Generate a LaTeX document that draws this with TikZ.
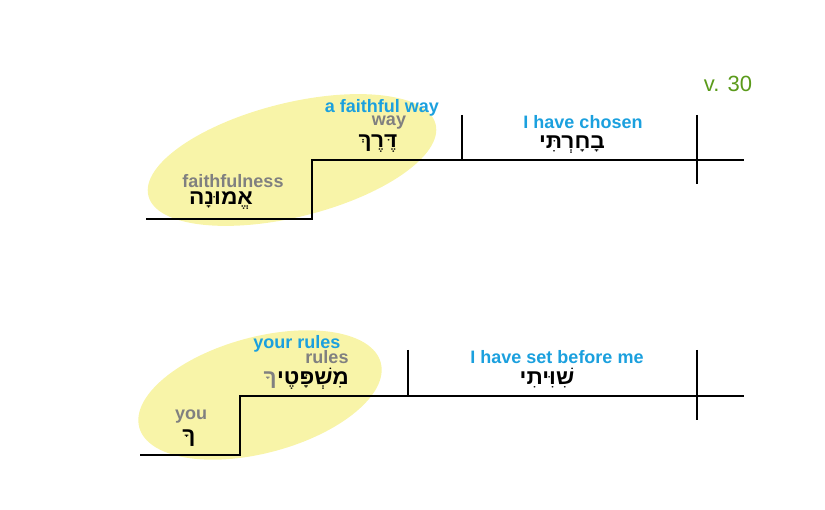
\documentclass[tikz,border=0pt]{standalone}
\usepackage{fontspec}
\setmainfont{Liberation Sans}
\newfontfamily\hebfont[Script=Hebrew, BoldFont={Liberation Sans Bold}, BoldFeatures={FakeStretch=1.08}]{Liberation Sans}
\TeXXeTstate=1
\definecolor{glossblue}{RGB}{27,160,222}
\definecolor{glossgray}{RGB}{128,128,128}
\definecolor{versegreen}{RGB}{90,154,26}
\definecolor{hilite}{RGB}{248,244,168}
\newcommand{\heb}[1]{\hebfont\bfseries\beginR #1\endR}
\begin{document}
\begin{tikzpicture}[x=1pt,y=-1pt,
    en/.style={font=\fontsize{18}{18}\selectfont\bfseries, text=glossblue, inner sep=0pt},
    gl/.style={font=\fontsize{18}{18}\selectfont\bfseries, text=glossgray, inner sep=0pt},
    hw/.style={font=\fontsize{21}{21}\selectfont, inner sep=0pt, anchor=base},
    rule/.style={line width=1.2pt, black}]
  \useasboundingbox (0,0) rectangle (825,510);
  % highlights
  \fill[hilite, rotate around={14:(292,160)}] (292,160) ellipse [x radius=148pt, y radius=57pt];
  \fill[hilite, rotate around={15:(260,395)}] (260,395) ellipse [x radius=125pt, y radius=58pt];
  % verse number
  \node[font=\fontsize{22}{22}\selectfont, text=versegreen] (verse) at (728,84) {v. 30};
  % line one
  \coordinate (a0) at (146,219);
  \coordinate (a1) at (312,219);
  \coordinate (a2) at (312,160);
  \coordinate (a3) at (744,160);
  \coordinate (d1t) at (462,115);
  \coordinate (d1b) at (462,160);
  \coordinate (d2t) at (697,115);
  \coordinate (d2b) at (697,184);
  \draw[rule] (a0) -- (a1) -- (a2) -- (a3);
  \draw[rule] (d1t) -- (d1b);
  \draw[rule] (d2t) -- (d2b);
  \node[en] (wayen) at (382,108) {a faithful way};
  \node[gl] (waygl) at (389,123) {way};
  \node[hw] (way) at (378,148) {\heb{דֶּרֶךְ}};
  \node[gl] (faithgl) at (233,181) {faithfulness};
  \node[hw] (faith) at (221,205) {\heb{אֱמוּנָה}};
  \node[en] (chosenen) at (583,122) {I have chosen};
  \node[hw] (chosen) at (572,149) {\heb{בָחָרְתִּי}};
  % line two
  \coordinate (b0) at (140,455);
  \coordinate (b1) at (240,455);
  \coordinate (b2) at (240,396);
  \coordinate (b3) at (744,396);
  \coordinate (e1t) at (408,350);
  \coordinate (e1b) at (408,396);
  \coordinate (e2t) at (697,350);
  \coordinate (e2b) at (697,420);
  \draw[rule] (b0) -- (b1) -- (b2) -- (b3);
  \draw[rule] (e1t) -- (e1b);
  \draw[rule] (e2t) -- (e2b);
  \node[en] (rulesen) at (297,344) {your rules};
  \node[gl] (rulesgl) at (327,357) {rules};
  \node[hw] (rules) at (313,385) {\heb{מִשְׁפָּטֶי}};
  \node[hw, anchor=base east, text=glossgray] (rulessfx) at (rules.base west) {\heb{ךָ}};
  \node[gl] (yougl) at (191,417) {you};
  \node[hw] (you) at (189,443) {\heb{ךָ}};
  \node[en] (seten) at (557,357) {I have set before me};
  \node[hw] (set) at (547,385) {\heb{שִׁוִּיתִי}};
\end{tikzpicture}
\end{document}
